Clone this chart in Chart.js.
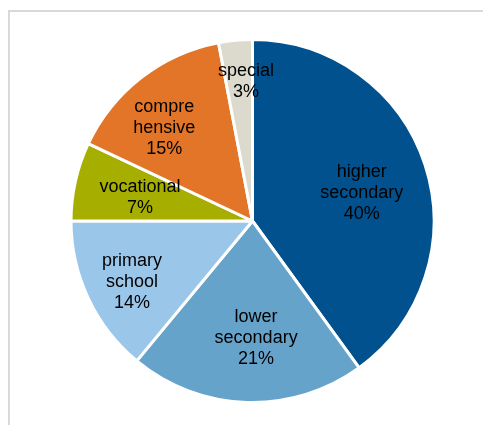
<!DOCTYPE html>
<html>
<head>
<meta charset="utf-8">
<script src="https://cdn.jsdelivr.net/npm/chart.js@4"></script>
<style>
    html, body { margin: 0; padding: 0; background: #fff; }
    #wrap { position: relative; width: 483px; height: 425px; overflow: hidden; }
    #frame {
        position: absolute; left: 8px; top: 10px; right: -10px; bottom: -10px;
        border-top: 2px solid #d9d9d9; border-left: 2px solid #d9d9d9;
    }
    #pie { position: absolute; left: 0; top: 0; }
</style>
</head>
<body>
<div id="wrap">
    <div id="frame"></div>
    <canvas id="pie" width="483" height="425"></canvas>
</div>
<script>
// School types, clockwise from 12 o'clock
const schoolTypes = [['higher', 'secondary'], ['lower', 'secondary'], ['primary', 'school'], ['vocational'], ['compre', 'hensive'], ['special']];
const shares = [40, 21, 14, 7, 15, 3];
const sliceColors = ['#02518f', '#66a3cb', '#9ac6ea', '#a6ae00', '#e37528', '#dcd9cd'];

// where each label sits: [fraction of radius, angle nudge in degrees]
const labelPlace = [[0.625, 2.5], [0.633, -3.6], [0.74, -1.1], [0.635, 0], [0.713, -5.2], [0.78, 2.8]];

const sliceLabels = {
    id: 'sliceLabels',
    afterDatasetsDraw(chart) {
        const ctx = chart.ctx;
        const arcs = chart.getDatasetMeta(0).data;
        ctx.save();
        ctx.font = '18px "Liberation Sans", Arial, sans-serif';
        ctx.fillStyle = '#000';
        ctx.textAlign = 'center';
        ctx.textBaseline = 'middle';
        arcs.forEach((arc, i) => {
            const { x, y, startAngle, endAngle, outerRadius } = arc.getProps(['x', 'y', 'startAngle', 'endAngle', 'outerRadius'], true);
            const mid = (startAngle + endAngle) / 2 + labelPlace[i][1] * Math.PI / 180;
            const r = outerRadius * labelPlace[i][0];
            const cx = x + Math.cos(mid) * r;
            const cy = y + Math.sin(mid) * r + 2;
            const lines = schoolTypes[i].concat([shares[i] + '%']);
            const lh = 21;
            lines.forEach((line, j) => {
                ctx.fillText(line, cx, cy + (j - (lines.length - 1) / 2) * lh);
            });
        });
        ctx.restore();
    }
};

new Chart(document.getElementById('pie'), {
    type: 'pie',
    data: {
        labels: schoolTypes.map(t => t.join('')),
        datasets: [{
            data: shares,
            backgroundColor: sliceColors,
            borderColor: '#fff',
            borderWidth: 3
        }]
    },
    options: {
        responsive: false,
        animation: false,
        layout: { padding: { top: 38, bottom: 21, left: 22, right: 0 } },
        plugins: {
            legend: { display: false },
            tooltip: { enabled: false }
        }
    },
    plugins: [sliceLabels]
});
</script>
</body>
</html>
